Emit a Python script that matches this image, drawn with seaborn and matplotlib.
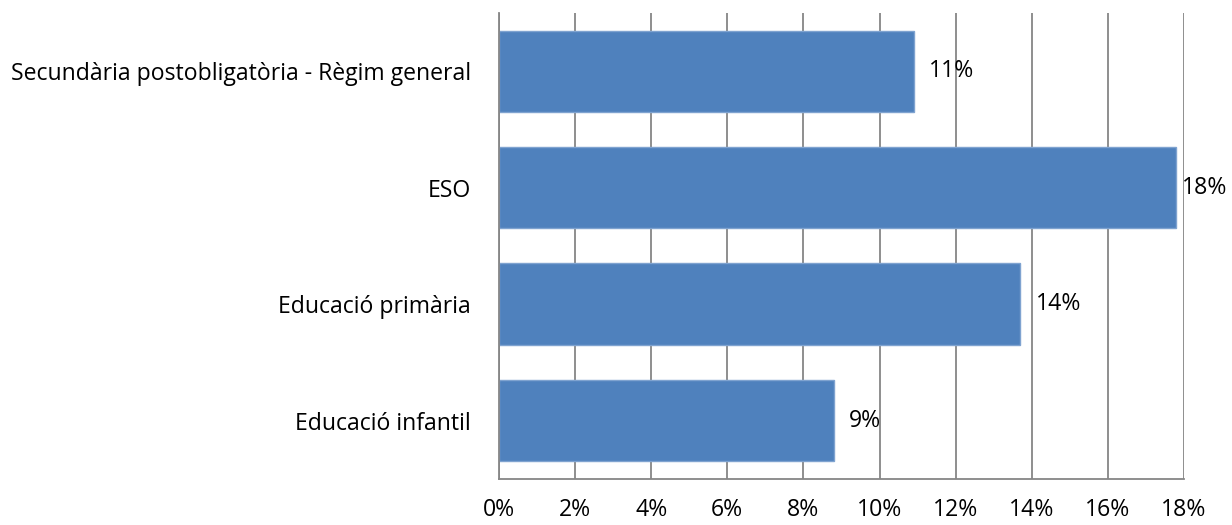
import pandas as pd
import matplotlib.pyplot as plt
import seaborn as sns
from matplotlib.ticker import FixedLocator

categories = ['Secundària postobligatòria - Règim general', 'ESO',
              'Educació primària', 'Educació infantil']
values = [10.9, 17.8, 13.7, 8.8]
labels = ['11%', '18%', '14%', '9%']
x_ticks = [0, 2, 4, 6, 8, 10, 12, 14, 16, 18]

df = pd.DataFrame({'cat': categories, 'val': values})

sns.set_style('white')
plt.rcParams['font.family'] = ['Open Sans', 'DejaVu Sans']
plt.rcParams['text.color'] = 'black'
plt.rcParams['xtick.labelcolor'] = 'black'
plt.rcParams['ytick.labelcolor'] = 'black'

fs = 16.6

fig = plt.figure(figsize=(12.32, 5.25), dpi=100)
ax = fig.add_axes([0.405, 0.088, 0.556, 0.887])

sns.barplot(data=df, x='val', y='cat', color='#4F81BD', width=0.7,
            edgecolor='#7FA3D0', linewidth=1, saturation=1, ax=ax)

ax.set_xlim(0, 18)
ax.set_ylim(3.5, -0.5)
ax.set_xticks(x_ticks)
ax.set_xticklabels([f'{t}%' for t in x_ticks], fontsize=fs)
ax.xaxis.grid(True, color='#868686', linewidth=1.3)
ax.set_axisbelow(True)
ax.tick_params(axis='x', direction='out', length=8, width=1.3,
               color='#868686', pad=6)

# y ticks sit on the category boundaries
ax.yaxis.set_minor_locator(FixedLocator([-0.5, 0.5, 1.5, 2.5, 3.5]))
ax.tick_params(axis='y', which='major', length=0, pad=20, labelsize=fs)
ax.tick_params(axis='y', which='minor', direction='inout', length=14,
               width=1.3, color='#868686')

for side in ['top', 'right']:
    ax.spines[side].set_visible(False)
for side in ['left', 'bottom']:
    ax.spines[side].set_color('#868686')
    ax.spines[side].set_linewidth(1.3)

ax.set_xlabel('')
ax.set_ylabel('')

# value labels; the one at the edge is pulled in so it stays inside
for i, (v, lab) in enumerate(zip(values, labels)):
    off = 11 if v < 17 else 4
    ax.annotate(lab, (v, i), xytext=(off, 0), textcoords='offset points',
                va='center', ha='left', fontsize=fs)

fig.savefig('out.png', dpi=100)
